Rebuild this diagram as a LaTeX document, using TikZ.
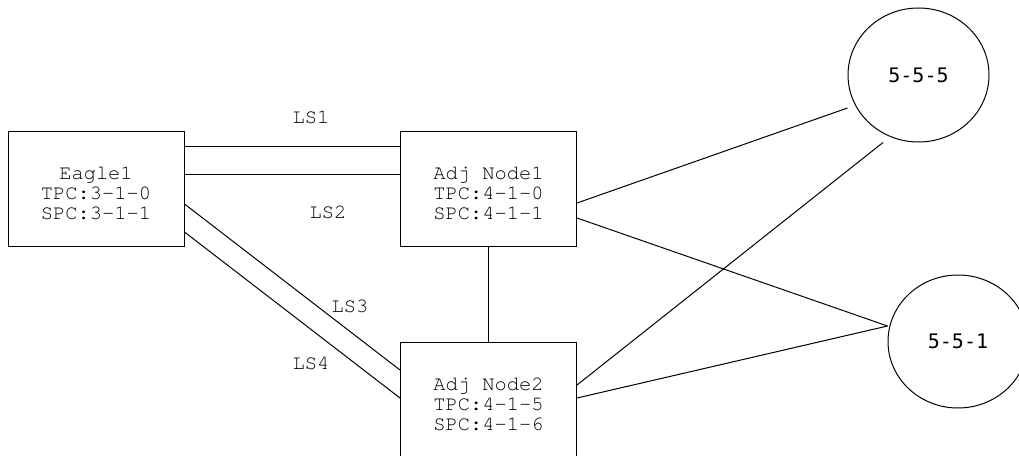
\documentclass[tikz,border=0pt]{standalone}
\usepackage{fontspec}
\newfontfamily\courfont{texgyrecursor-regular.otf}
\newfontfamily\circfont{DejaVu Sans Mono}
\usetikzlibrary{shapes.geometric,calc}
\begin{document}
\begin{tikzpicture}[x=0.75pt,y=-0.75pt,line width=0.75pt,
  boxnode/.style={draw,rectangle,minimum width=132pt,minimum height=85.5pt,inner sep=0pt,align=center,
    font=\courfont\fontsize{15.3}{15}\selectfont},
  circnode/.style={draw,ellipse,inner sep=0pt,font=\circfont\fontsize{15}{15}\selectfont},
  lbl/.style={inner sep=0pt,font=\courfont\fontsize{15.3}{15}\selectfont}]
\useasboundingbox (0,0) rectangle (1019,456);
\node[boxnode] (e) at (96,189) {\rule{0pt}{16pt}Eagle1\\TPC:3-1-0\\SPC:3-1-1};
\node[boxnode] (a1) at (488.5,189) {\rule{0pt}{16pt}Adj Node1\\TPC:4-1-0\\SPC:4-1-1};
\node[boxnode,minimum height=87pt] (a2) at (488.5,400) {\rule{0pt}{16pt}Adj Node2\\TPC:4-1-5\\SPC:4-1-6};
\node[circnode,minimum width=105.75pt,minimum height=100.5pt] (c5) at (918.5,75) {5-5-5};
\node[circnode,minimum width=105pt,minimum height=99.75pt] (c1) at (958,341.5) {5-5-1};
% links
\draw ($(e.east)+(0,-43)$) -- ($(a1.west)+(0,-43)$);
\draw ($(e.east)+(0,-15)$) -- ($(a1.west)+(0,-15)$);
\draw ($(e.east)+(0,15)$) -- ($(a2.west)+(0,-30)$);
\draw ($(e.east)+(0,43)$) -- ($(a2.west)+(0,-2)$);
\draw (a1.south) -- (a2.north);
\draw ($(a1.east)+(0,14)$) -- ($(c5.west)+(0,33)$);
\draw ($(a1.east)+(0,29)$) -- ($(c1.west)+(0,-15.5)$);
\draw ($(a2.east)+(0,-15)$) -- ($(c5.south)+(-35.5,0)$);
\draw ($(a2.east)+(0,-2)$) -- ($(c1.west)+(0,-15.5)$);
% labels
\node[lbl] (l1) at (311,117) {LS1};
\node[lbl] (l2) at (328,212) {LS2};
\node[lbl] (l3) at (350,306) {LS3};
\node[lbl] (l4) at (311,363) {LS4};
\end{tikzpicture}
\end{document}
